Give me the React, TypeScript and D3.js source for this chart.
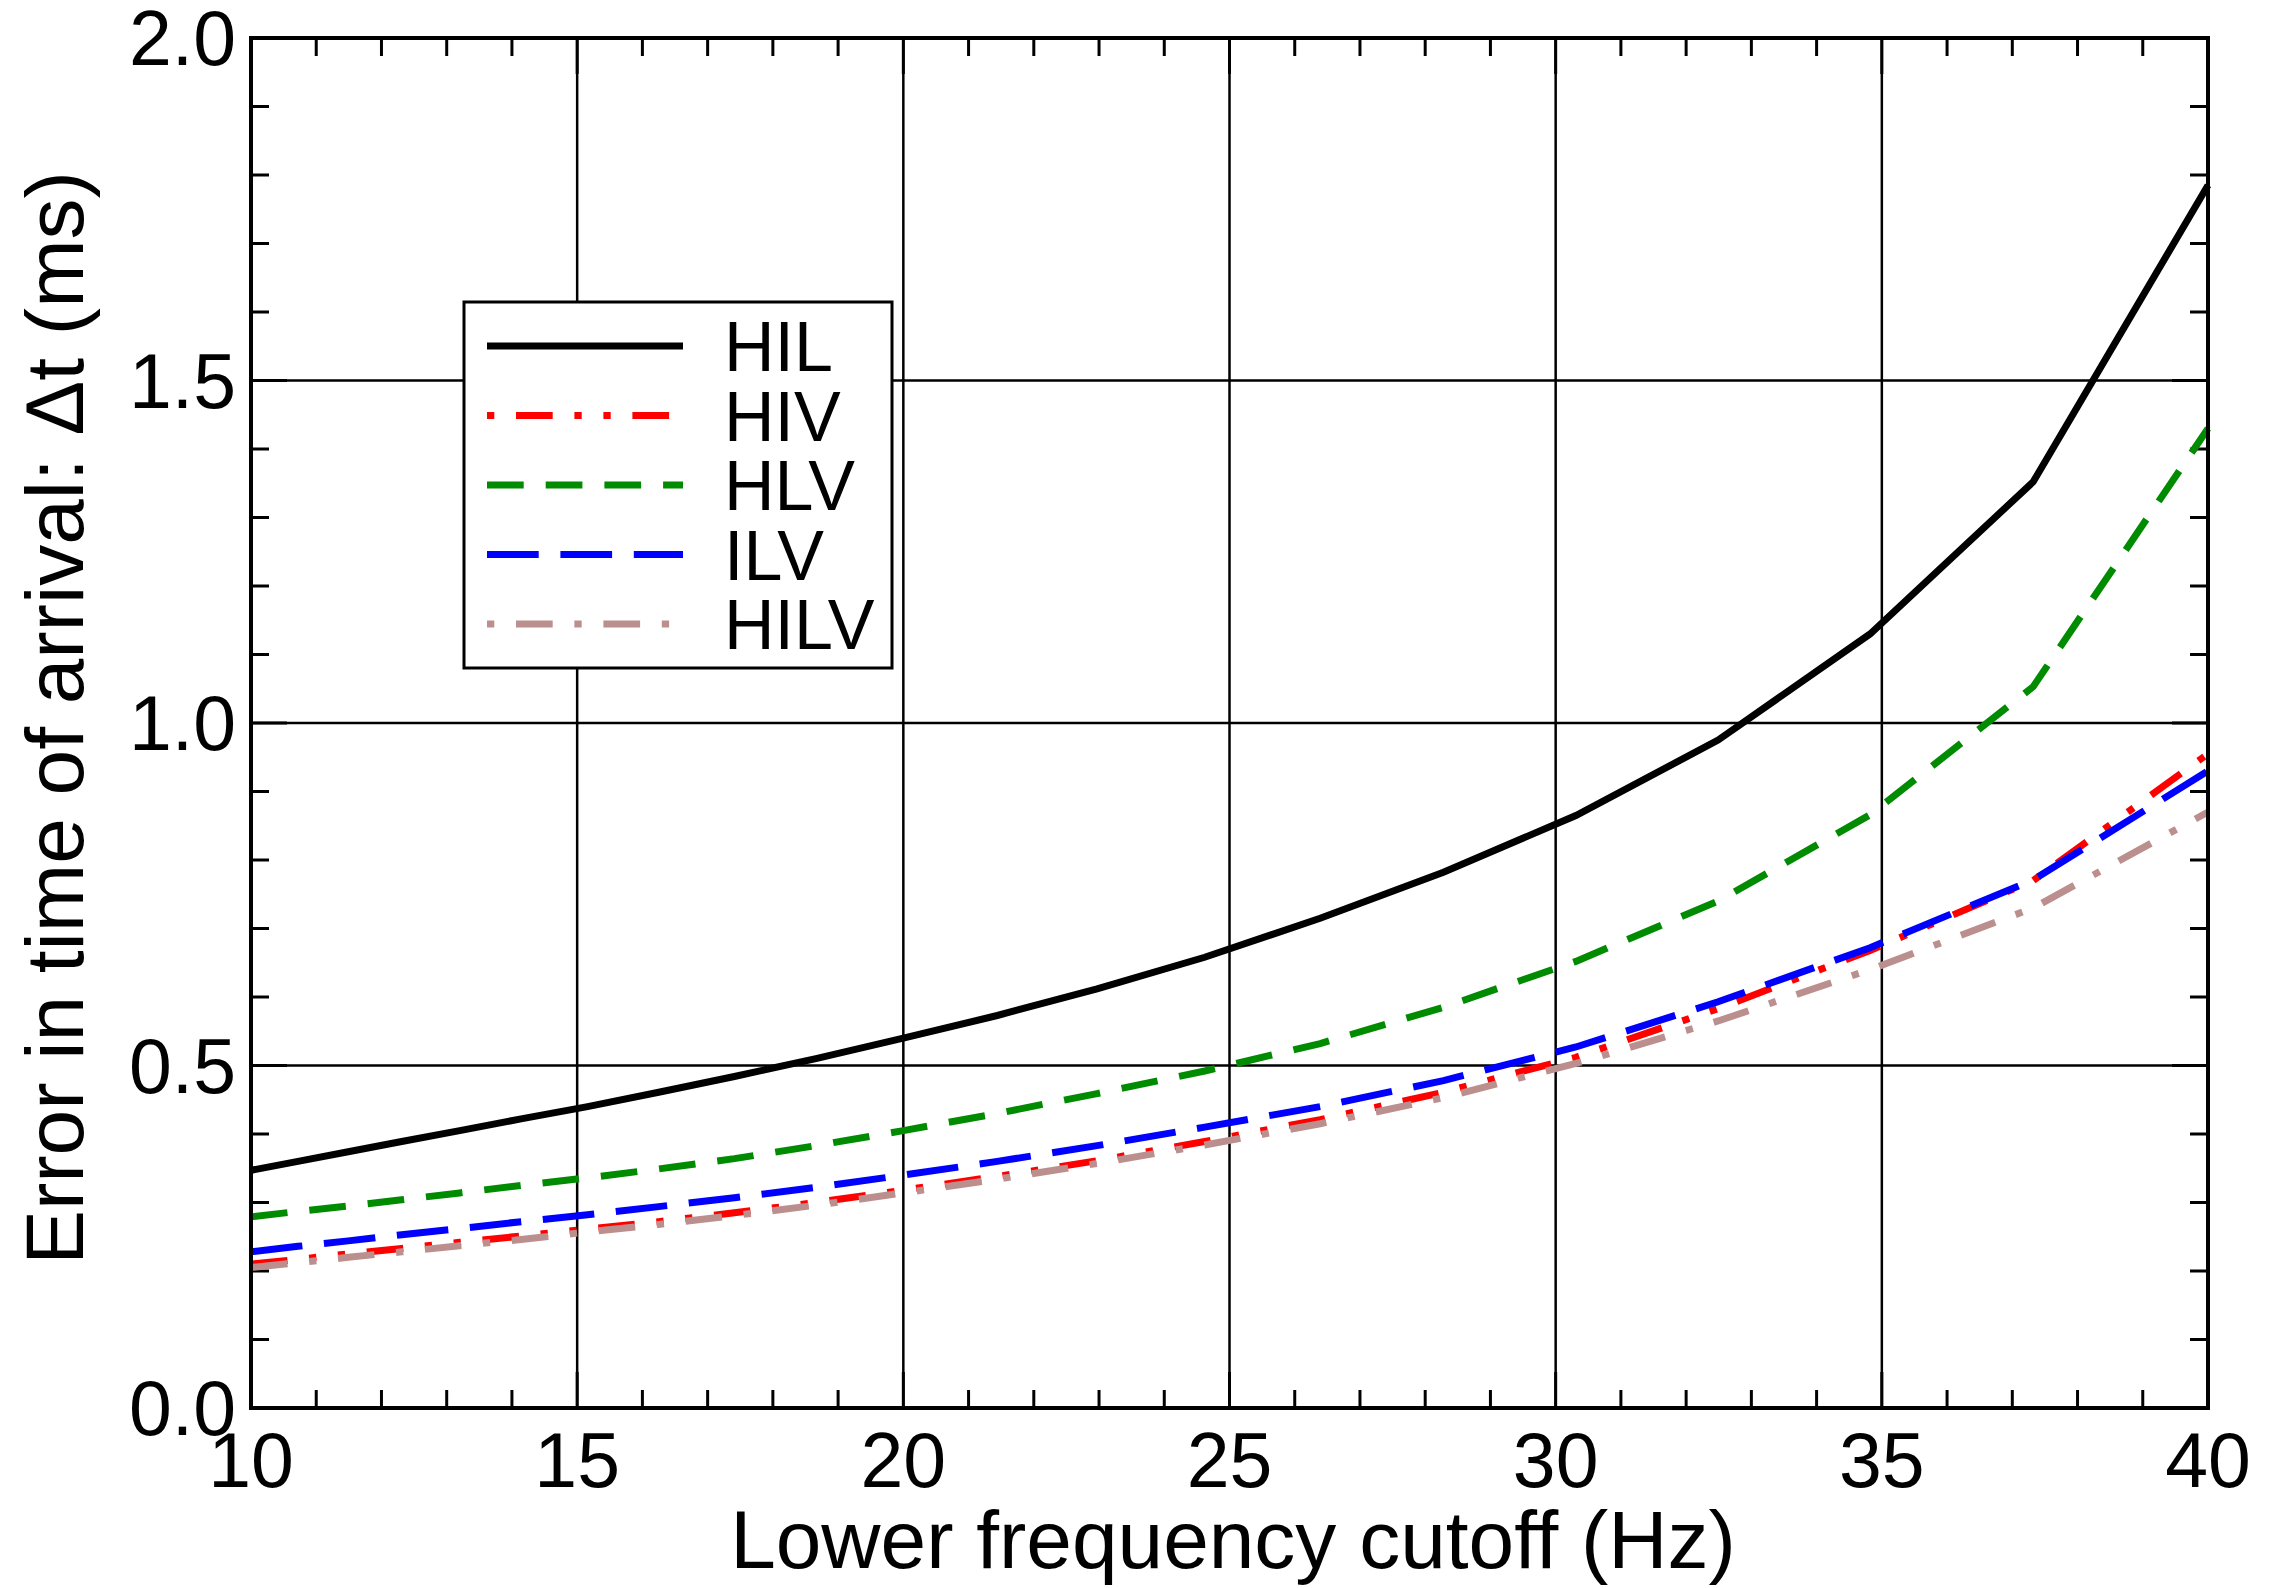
import React from "react";
import * as d3 from "d3";

const cutoffHz = [10, 10.72, 11.49, 12.31, 13.2, 14.14, 15.16, 16.25, 17.41, 18.66, 20, 21.44, 22.97, 24.62, 26.39, 28.28, 30.31, 32.49, 34.82, 37.32, 40];
const HIL = [0.347, 0.36, 0.374, 0.389, 0.405, 0.422, 0.44, 0.461, 0.484, 0.51, 0.54, 0.573, 0.612, 0.658, 0.715, 0.782, 0.865, 0.975, 1.13, 1.352, 1.785];
const HIV = [0.21, 0.217, 0.225, 0.233, 0.242, 0.251, 0.261, 0.272, 0.285, 0.3, 0.318, 0.338, 0.361, 0.389, 0.421, 0.461, 0.512, 0.583, 0.668, 0.77, 0.955];
const HLV = [0.279, 0.287, 0.295, 0.304, 0.314, 0.325, 0.336, 0.349, 0.364, 0.383, 0.405, 0.43, 0.459, 0.492, 0.532, 0.585, 0.652, 0.74, 0.866, 1.053, 1.43];
const ILV = [0.228, 0.236, 0.244, 0.253, 0.262, 0.272, 0.282, 0.294, 0.307, 0.322, 0.34, 0.36, 0.383, 0.41, 0.44, 0.478, 0.527, 0.593, 0.672, 0.771, 0.93];
const HILV = [0.205, 0.212, 0.22, 0.228, 0.237, 0.246, 0.257, 0.268, 0.281, 0.296, 0.314, 0.334, 0.357, 0.384, 0.415, 0.453, 0.503, 0.565, 0.64, 0.73, 0.87];

const seriesNames = ["HIL", "HIV", "HLV", "ILV", "HILV"];
const seriesColors = ["#000000", "#ff0000", "#008b00", "#0000ff", "#bc8f8f"];
const seriesDash = ["none", "36.7 21.7 7.3 21.7 7.3 21.7", "36.7 22", "51.7 21.7", "36.7 21.7 7.3 21.7"];
const legendDashOffset = [0, 87.4, 0, 0, 58.4];
const seriesValues = [HIL, HIV, HLV, ILV, HILV];

const xTicks = [10, 15, 20, 25, 30, 35, 40];
const yTicks = [0.0, 0.5, 1.0, 1.5, 2.0];

const W = 2288, H = 1588;
const L = 251, R = 2208, T = 38, B = 1408;
const FONT = "'Liberation Sans', Arial, Helvetica, sans-serif";

export default function App() {
  const x = d3.scaleLinear().domain([10, 40]).range([L, R]);
  const y = d3.scaleLinear().domain([0, 2]).range([B, T]);
  const minorX = d3.range(10, 41, 1).filter((v) => v % 5 !== 0);
  const minorY = d3.range(0, 21, 1).map((v) => v / 10).filter((v, i) => i % 5 !== 0);
  const line = d3.line<number>().x((_, i) => x(cutoffHz[i])).y((d) => y(d));

  const legX = 464, legY = 302, legW = 428, legH = 366;
  const rowY = (i: number) => 346 + i * 69.5;

  return (
    <svg width={W} height={H} style={{ position: "absolute", left: 0, top: 0, background: "#fff" }}>
      <rect x={0} y={0} width={W} height={H} fill="#fff" />
      {/* grid */}
      {xTicks.slice(1, -1).map((t) => (
        <line key={"gx" + t} x1={x(t)} x2={x(t)} y1={T} y2={B} stroke="#000" strokeWidth={2.5} />
      ))}
      {yTicks.slice(1, -1).map((t) => (
        <line key={"gy" + t} x1={L} x2={R} y1={y(t)} y2={y(t)} stroke="#000" strokeWidth={2.5} />
      ))}
      {/* minor ticks */}
      {minorX.map((t) => (
        <g key={"mx" + t}>
          <line x1={x(t)} x2={x(t)} y1={B} y2={B - 18} stroke="#000" strokeWidth={3} />
          <line x1={x(t)} x2={x(t)} y1={T} y2={T + 18} stroke="#000" strokeWidth={3} />
        </g>
      ))}
      {minorY.map((t) => (
        <g key={"my" + t}>
          <line x1={L} x2={L + 18} y1={y(t)} y2={y(t)} stroke="#000" strokeWidth={3} />
          <line x1={R} x2={R - 18} y1={y(t)} y2={y(t)} stroke="#000" strokeWidth={3} />
        </g>
      ))}
      {/* major ticks */}
      {xTicks.map((t) => (
        <g key={"Mx" + t}>
          <line x1={x(t)} x2={x(t)} y1={B} y2={B - 36} stroke="#000" strokeWidth={3} />
          <line x1={x(t)} x2={x(t)} y1={T} y2={T + 36} stroke="#000" strokeWidth={3} />
        </g>
      ))}
      {yTicks.map((t) => (
        <g key={"My" + t}>
          <line x1={L} x2={L + 36} y1={y(t)} y2={y(t)} stroke="#000" strokeWidth={3} />
          <line x1={R} x2={R - 36} y1={y(t)} y2={y(t)} stroke="#000" strokeWidth={3} />
        </g>
      ))}
      {/* series */}
      {seriesValues.map((vals, i) => (
        <path
          key={seriesNames[i]}
          d={line(vals) || ""}
          fill="none"
          stroke={seriesColors[i]}
          strokeWidth={7}
          strokeDasharray={seriesDash[i]}
          strokeLinejoin="miter"
        />
      ))}
      {/* frame */}
      <rect x={L} y={T} width={R - L} height={B - T} fill="none" stroke="#000" strokeWidth={4} />
      {/* tick labels */}
      {xTicks.map((t) => (
        <text key={"lx" + t} x={x(t)} y={1487} textAnchor="middle" fontFamily={FONT} fontSize={77} fill="#000">
          {t}
        </text>
      ))}
      {yTicks.map((t) => (
        <text key={"ly" + t} x={236} y={y(t) + 27} textAnchor="end" fontFamily={FONT} fontSize={77} fill="#000">
          {t.toFixed(1)}
        </text>
      ))}
      {/* axis titles */}
      <text x={1233} y={1568} textAnchor="middle" fontFamily={FONT} fontSize={82} fill="#000">
        Lower frequency cutoff (Hz)
      </text>
      <text
        transform={`translate(83, 718) rotate(-90)`}
        textAnchor="middle"
        fontFamily={FONT}
        fontSize={82}
        fill="#000"
      >
        Error in time of arrival: Δt (ms)
      </text>
      {/* legend */}
      <rect x={legX} y={legY} width={legW} height={legH} fill="#fff" stroke="#000" strokeWidth={3} />
      {seriesNames.map((name, i) => (
        <g key={"leg" + name}>
          <line
            x1={487}
            x2={683}
            y1={rowY(i)}
            y2={rowY(i)}
            stroke={seriesColors[i]}
            strokeWidth={7}
            strokeDasharray={seriesDash[i]}
            strokeDashoffset={legendDashOffset[i]}
          />
          <text x={724} y={rowY(i) + 25} fontFamily={FONT} fontSize={70} fill="#000">
            {name}
          </text>
        </g>
      ))}
    </svg>
  );
}
